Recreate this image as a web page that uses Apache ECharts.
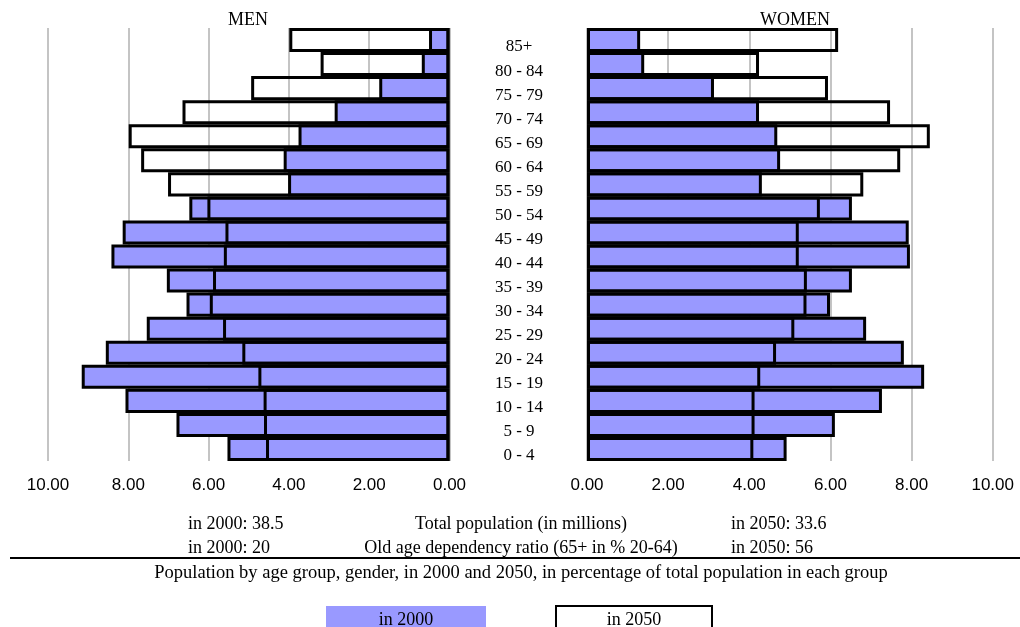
<!DOCTYPE html>
<html>
<head>
<meta charset="utf-8">
<script src="https://cdn.jsdelivr.net/npm/echarts@6/dist/echarts.min.js"></script>
<style>
html,body{margin:0;padding:0;background:#fff;}
#chart{width:1020px;height:627px;}
</style>
</head>
<body>
<div id="chart"></div>
<script>
// Age groups, bottom to top
const ageGroups = ['0 - 4','5 - 9','10 - 14','15 - 19','20 - 24','25 - 29','30 - 34','35 - 39','40 - 44','45 - 49','50 - 54','55 - 59','60 - 64','65 - 69','70 - 74','75 - 79','80 - 84','85+'];
const men2000   = [5.53,6.80,8.07,9.16,8.56,7.54,6.55,7.04,8.42,8.14,6.48,4.02,4.13,3.76,2.86,1.75,0.69,0.51];
const men2050   = [4.57,4.62,4.63,4.76,5.16,5.64,5.97,5.89,5.62,5.58,6.03,7.01,7.68,7.99,6.65,4.94,3.21,3.99];
const women2000 = [4.92,6.11,7.27,8.31,7.81,6.88,5.99,6.53,7.96,7.93,6.53,4.31,4.76,4.69,4.24,3.13,1.41,1.31];
const women2050 = [4.10,4.13,4.13,4.27,4.66,5.11,5.41,5.42,5.22,5.22,5.74,6.81,7.72,8.45,7.47,5.94,4.24,6.19];
const seriesNames = ['in 2000','in 2050'];
const panelTitles = ['MEN','WOMEN'];
const totalPop = {label:'Total population (in millions)', y2000:'38.5', y2050:'33.6'};
const dependency = {label:'Old age dependency ratio (65+ in % 20-64)', y2000:'20', y2050:'56'};
const caption = 'Population by age group, gender, in 2000 and 2050, in percentage of total population in each group';

const BLUE = '#9999ff';
const SERIF = 'Liberation Serif, Times New Roman, serif';
const SANS = 'Liberation Sans, Arial, sans-serif';

function xAx(idx, inverse){
  return {
    gridIndex: idx, type:'value', inverse: inverse, min:0, max:10, interval:2,
    axisLine:{show:false}, axisTick:{show:false},
    splitLine:{show:true, lineStyle:{color:'#c4c4c4', width:2}},
    axisLabel:{formatter:v=>v.toFixed(2), fontFamily:SANS, fontSize:17, color:'#000', margin:16}
  };
}
function yAx(idx, showLabels){
  return {
    gridIndex: idx, type:'category', data: ageGroups,
    axisLine:{show:false}, axisTick:{show:false}, splitLine:{show:false},
    axisLabel:{show:showLabels, margin:68, align:'center', verticalAlign:'top', lineHeight:14,
      fontFamily:SERIF, fontSize:17, color:'#000'}
  };
}
function bars(name, data, idx, fill){
  return {
    type:'bar', name:name, data:data, xAxisIndex:idx, yAxisIndex:idx,
    barGap:'-100%', barCategoryGap:'0%', silent:true,
    itemStyle:{color:fill, borderColor:'#000', borderWidth:3}
  };
}
function txt(x, y, text, align, size, font){
  return {type:'text', x:x, y:y, style:{text:text, fill:'#000', font:(size||18)+'px '+(font||SERIF), textAlign:align||'left', textVerticalAlign:'middle'}};
}

const chart = echarts.init(document.getElementById('chart'), null, {renderer:'canvas'});
chart.setOption({
  animation:false,
  backgroundColor:'#fff',
  grid:[
    {left:48, top:28, width:401.5, height:433},
    {left:587, top:28, width:405.7, height:433}
  ],
  xAxis:[xAx(0,true), xAx(1,false)],
  yAxis:[yAx(0,false), yAx(1,true)],
  series:[
    bars(seriesNames[0], men2000, 0, BLUE),
    bars(seriesNames[1], men2050, 0, 'rgba(255,255,255,0)'),
    bars(seriesNames[0], women2000, 1, BLUE),
    bars(seriesNames[1], women2050, 1, 'rgba(255,255,255,0)')
  ],
  graphic:[
    txt(248, 20, panelTitles[0], 'center'),
    txt(795, 20, panelTitles[1], 'center'),
    txt(188, 524, 'in 2000: ' + totalPop.y2000),
    txt(521, 524, totalPop.label, 'center'),
    txt(731, 524, 'in 2050: ' + totalPop.y2050),
    txt(188, 548, 'in 2000: ' + dependency.y2000),
    txt(521, 548, dependency.label, 'center'),
    txt(731, 548, 'in 2050: ' + dependency.y2050),
    {type:'line', shape:{x1:10, y1:558, x2:1020, y2:558}, style:{stroke:'#000', lineWidth:2}},
    txt(521, 573, caption, 'center', 18.5),
    {type:'rect', shape:{x:326, y:606, width:160, height:30}, style:{fill:BLUE}},
    txt(406, 620, seriesNames[0], 'center'),
    {type:'rect', shape:{x:556, y:606, width:156, height:30}, style:{fill:'#fff', stroke:'#000', lineWidth:2}},
    txt(634, 620, seriesNames[1], 'center')
  ]
});
</script>
</body>
</html>
